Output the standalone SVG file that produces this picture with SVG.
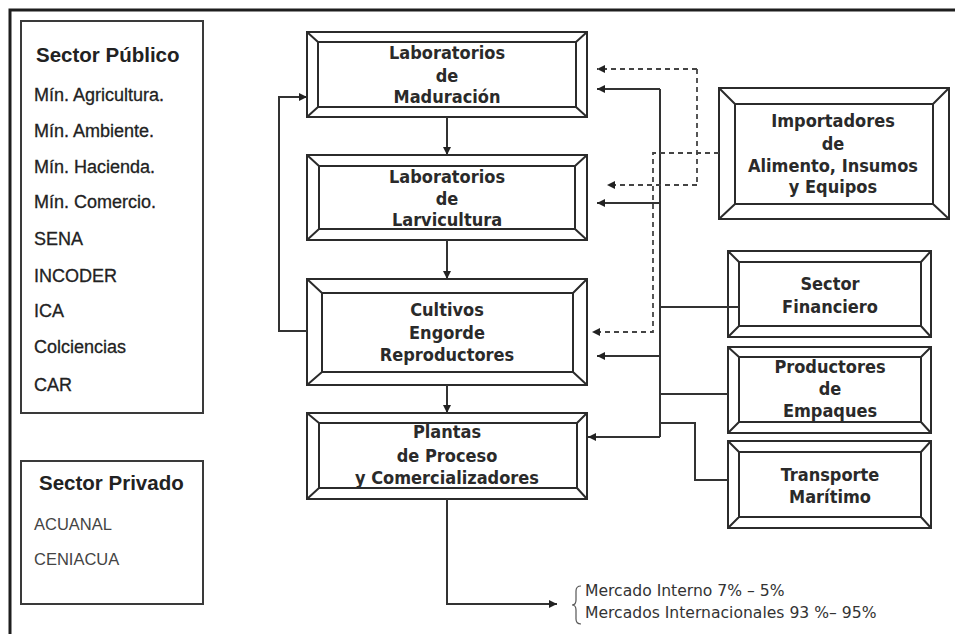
<svg xmlns="http://www.w3.org/2000/svg" width="955" height="634" viewBox="0 0 955 634">
  <style>
    .frame { fill: none; stroke: #2b2b2b; stroke-width: 2; stroke-linejoin: miter; }
    .panel { fill: none; stroke: #3a3a3a; stroke-width: 2; }
    .ptitle { font-family: "Liberation Sans", Arial, sans-serif; font-size: 20.5px; font-weight: bold; fill: #222; }
    .pitem { font-family: "Liberation Sans", Arial, sans-serif; font-size: 18px; fill: #222; stroke: #222; stroke-width: 0.3; }
    .pitem2 { font-family: "Liberation Sans", Arial, sans-serif; font-size: 16.5px; fill: #444; }
    .lbl { font-family: "DejaVu Sans Condensed", "DejaVu Sans", sans-serif; font-stretch: condensed; font-size: 18px; font-weight: bold; fill: #2a2a2a; text-anchor: middle; }
    .mkt { font-family: "DejaVu Sans", sans-serif; font-size: 15.6px; fill: #333; }
    .ln { fill: none; stroke: #333; stroke-width: 2; }
    .dash { fill: none; stroke: #444; stroke-width: 1.8; stroke-dasharray: 5 4; }
  </style>
  <defs>
    <marker id="arrow" viewBox="0 0 10 10" refX="10" refY="5" markerWidth="9" markerHeight="8" markerUnits="userSpaceOnUse" orient="auto">
      <path d="M0,0 L10,5 L0,10 z" fill="#222"/>
    </marker>
  </defs>

  <rect x="0" y="0" width="955" height="634" fill="#ffffff"/>
  <!-- outer border: top and left edges -->
  <path d="M10,634 L10,10 L955,10" fill="none" stroke="#1e1e1e" stroke-width="3"/>

  <!-- public sector panel -->
  <g id="sector-publico">
    <rect class="panel" x="21" y="21" width="182" height="392"/>
    <text class="ptitle" x="36" y="62">Sector Público</text>
    <text class="pitem" x="34" y="101">Mín. Agricultura.</text>
    <text class="pitem" x="34" y="137">Mín. Ambiente.</text>
    <text class="pitem" x="34" y="173">Mín. Hacienda.</text>
    <text class="pitem" x="34" y="208">Mín. Comercio.</text>
    <text class="pitem" x="34" y="245">SENA</text>
    <text class="pitem" x="34" y="282">INCODER</text>
    <text class="pitem" x="34" y="317">ICA</text>
    <text class="pitem" x="34" y="353">Colciencias</text>
    <text class="pitem" x="34" y="391">CAR</text>
  </g>

  <!-- private sector panel -->
  <g id="sector-privado">
    <rect class="panel" x="21" y="461" width="182" height="143"/>
    <text class="ptitle" x="39" y="490">Sector Privado</text>
    <text class="pitem2" x="34" y="530">ACUANAL</text>
    <text class="pitem2" x="34" y="565">CENIACUA</text>
  </g>

  <!-- central chain -->
  <g id="maduracion">
    <path class="frame" d="M307,32 H587 V117 H307 Z M318,42 H576 V107 H318 Z M307,32 L318,42 M587,32 L576,42 M587,117 L576,107 M307,117 L318,107"/>
    <text class="lbl" x="447" y="59">Laboratorios</text>
    <text class="lbl" x="447" y="82">de</text>
    <text class="lbl" x="447" y="103">Maduración</text>
  </g>
  <g id="larvicultura">
    <path class="frame" d="M307,155 H587 V240 H307 Z M319,166 H575 V229 H319 Z M307,155 L319,166 M587,155 L575,166 M587,240 L575,229 M307,240 L319,229"/>
    <text class="lbl" x="447" y="183">Laboratorios</text>
    <text class="lbl" x="447" y="205">de</text>
    <text class="lbl" x="447" y="226">Larvicultura</text>
  </g>
  <g id="cultivos">
    <path class="frame" d="M307,279 H587 V385 H307 Z M322,293 H573 V372 H322 Z M307,279 L322,293 M587,279 L573,293 M587,385 L573,372 M307,385 L322,372"/>
    <text class="lbl" x="447" y="316">Cultivos</text>
    <text class="lbl" x="447" y="339">Engorde</text>
    <text class="lbl" x="447" y="361">Reproductores</text>
  </g>
  <g id="plantas">
    <path class="frame" d="M307,413 H587 V499 H307 Z M319,423 H577 V488 H319 Z M307,413 L319,423 M587,413 L577,423 M587,499 L577,488 M307,499 L319,488"/>
    <text class="lbl" x="447" y="438">Plantas</text>
    <text class="lbl" x="447" y="462">de Proceso</text>
    <text class="lbl" x="447" y="484">y Comercializadores</text>
  </g>

  <!-- suppliers and services -->
  <g id="importadores">
    <path class="frame" d="M719,88 H949 V219 H719 Z M735,104 H933 V204 H735 Z M719,88 L735,104 M949,88 L933,104 M949,219 L933,204 M719,219 L735,204"/>
    <text class="lbl" x="833" y="127">Importadores</text>
    <text class="lbl" x="833" y="150">de</text>
    <text class="lbl" x="833" y="172">Alimento, Insumos</text>
    <text class="lbl" x="833" y="193">y Equipos</text>
  </g>
  <g id="financiero">
    <path class="frame" d="M728,251 H931 V337 H728 Z M739,262 H921 V326 H739 Z M728,251 L739,262 M931,251 L921,262 M931,337 L921,326 M728,337 L739,326"/>
    <text class="lbl" x="830" y="290">Sector</text>
    <text class="lbl" x="830" y="313">Financiero</text>
  </g>
  <g id="empaques">
    <path class="frame" d="M728,347 H931 V433 H728 Z M739,357 H921 V422 H739 Z M728,347 L739,357 M931,347 L921,357 M931,433 L921,422 M728,433 L739,422"/>
    <text class="lbl" x="830" y="373">Productores</text>
    <text class="lbl" x="830" y="395">de</text>
    <text class="lbl" x="830" y="417">Empaques</text>
  </g>
  <g id="transporte">
    <path class="frame" d="M728,441 H931 V528 H728 Z M739,452 H921 V517 H739 Z M728,441 L739,452 M931,441 L921,452 M931,528 L921,517 M728,528 L739,517"/>
    <text class="lbl" x="830" y="481">Transporte</text>
    <text class="lbl" x="830" y="503">Marítimo</text>
  </g>

  <!-- connectors -->
  <g id="connectors">
    <!-- chain flow -->
    <path class="ln" d="M447,117 V155" marker-end="url(#arrow)"/>
    <path class="ln" d="M447,240 V279" marker-end="url(#arrow)"/>
    <path class="ln" d="M447,385 V413" marker-end="url(#arrow)"/>
    <!-- feedback from grow-out to maturation -->
    <path class="ln" d="M307,331 H279 V97 H307" marker-end="url(#arrow)"/>
    <!-- output to markets -->
    <path class="ln" d="M447,499 V604 H557" marker-end="url(#arrow)"/>

    <!-- solid service bus -->
    <path class="ln" d="M660,89 V437"/>
    <path class="ln" d="M660,89 H597" marker-end="url(#arrow)"/>
    <path class="ln" d="M660,203 H597" marker-end="url(#arrow)"/>
    <path class="ln" d="M660,356 H597" marker-end="url(#arrow)"/>
    <path class="ln" d="M660,437 H588" marker-end="url(#arrow)"/>
    <path class="ln" d="M660,307 H739" stroke-width="2.6"/>
    <path class="ln" d="M660,394 H728"/>
    <path class="ln" d="M660,423 H695 V480 H728"/>

    <!-- dashed supply lines from importers -->
    <path class="dash" d="M719,153 H653 V332 H592" marker-end="url(#arrow)"/>
    <path class="dash" d="M697,69 V185"/>
    <path class="dash" d="M697,69 H597" marker-end="url(#arrow)"/>
    <path class="dash" d="M697,185 H607" marker-end="url(#arrow)"/>
  </g>

  <!-- market split -->
  <g id="mercados">
    <path d="M581,586 Q576,586 576,591 L576,600 Q576,605 572,605 Q576,605 576,610 L576,619 Q576,624 581,624" fill="none" stroke="#555" stroke-width="1.2"/>
    <text class="mkt" x="585" y="596">Mercado Interno 7% – 5%</text>
    <text class="mkt" x="585" y="618">Mercados Internacionales 93 %– 95%</text>
  </g>
</svg>
